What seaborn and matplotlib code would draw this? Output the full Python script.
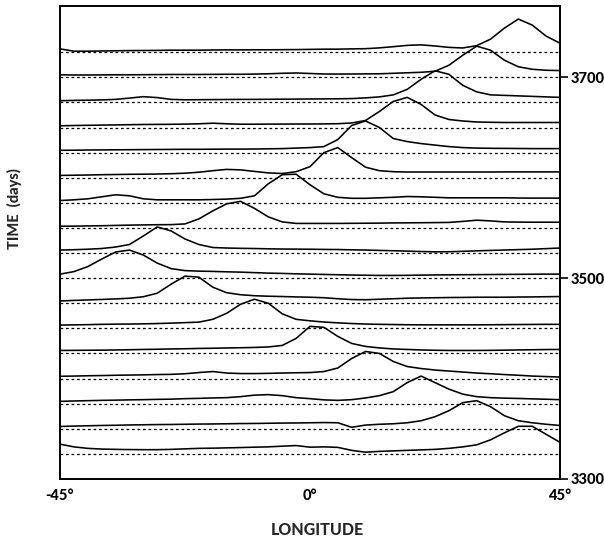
import numpy as np
import pandas as pd
import matplotlib
matplotlib.use("Agg")
import matplotlib.pyplot as plt
import seaborn as sns

# Longitude sample positions (degrees)
lon = np.arange(-45, 45.01, 2.5)

# Baseline (days) of each trace, top to bottom
baselines = [3725, 3700, 3675, 3650, 3625, 3600, 3575, 3550, 3525,
             3500, 3475, 3450, 3425, 3400, 3375, 3350, 3325]

# Trace heights above each baseline (days)
c01 = [3.3, 1.0, 1.0, 1.2, 1.4, 1.6, 1.7, 1.8, 2.0, 2.0, 2.0, 2.2, 2.3, 2.3, 2.4, 2.4, 2.5, 2.6, 2.8, 3.0, 3.0, 3.3, 3.5, 4.3, 5.5, 6.8, 7.3, 6.2, 4.8, 4.2, 6.5, 13, 24, 33, 27, 16, 9]
c02 = [2.5, 2.3, 2.3, 2.4, 2.5, 2.5, 2.6, 2.7, 2.8, 2.8, 2.8, 2.9, 3.0, 3.0, 3.2, 3.5, 4.0, 4.3, 3.8, 3.3, 3.2, 3.3, 3.4, 3.5, 4.0, 4.5, 5.0, 6.0, 12, 22, 31, 27, 17, 10.5, 8, 7, 6.7]
c03 = [1.7, 2.0, 2.2, 2.5, 3.0, 4.3, 5.7, 4.8, 3.0, 2.6, 2.7, 2.8, 2.9, 3.0, 3.0, 3.1, 3.2, 3.3, 3.4, 3.5, 3.6, 3.8, 4.5, 5.5, 7.5, 13, 23, 31.5, 28, 17, 10.5, 7.5, 7, 6.5, 6, 5.5, 5]
c04 = [1.7, 2.0, 2.2, 2.4, 2.6, 2.8, 3.0, 3.1, 3.2, 3.4, 3.7, 4.3, 3.7, 3.3, 3.3, 3.4, 3.4, 3.5, 3.5, 3.6, 3.8, 4.5, 7, 16, 26, 30, 23, 12.5, 8, 6.5, 5.5, 5.2, 5, 5, 5, 5, 5]
c05 = [2.3, 2.4, 2.6, 2.7, 2.8, 2.9, 3.0, 3.1, 3.2, 3.3, 3.3, 3.4, 3.5, 3.5, 3.6, 3.8, 4.0, 4.5, 5.0, 6.0, 13, 27, 31.5, 25, 14, 11, 9, 7.5, 6, 5, 4.5, 4.3, 4.2, 4.1, 4, 4, 4]
c06 = [2.3, 2.5, 2.7, 3.0, 3.2, 3.4, 3.5, 3.7, 4.0, 4.5, 5.5, 7, 8.3, 7.8, 6.3, 4.8, 4.2, 6, 11, 25, 30, 20, 10.5, 7, 6, 5.7, 5.7, 5.7, 5.7, 5.7, 5.7, 5.7, 5.8, 5.8, 5.8, 5.8, 5.8]
c07 = [2.3, 3, 4, 6, 8, 7, 4, 3, 3, 3, 3, 3.3, 3.7, 4.5, 7, 19, 28, 28.5, 18, 9, 5.5, 4.5, 4.5, 5, 5.5, 6.3, 6, 5.5, 5, 5, 5, 5, 5, 4.8, 4.7, 4.7, 4.7]
c08 = [1.7, 1.8, 2, 2.2, 2.5, 2.8, 3, 3.2, 3.3, 4, 9, 17, 24, 26.5, 19.5, 11, 6, 4.5, 4.5, 4.5, 4.5, 4.6, 4.7, 4.8, 5, 5.1, 5.2, 5.3, 5.5, 6.5, 7.7, 7, 6, 5.8, 5.7, 5.7, 5.7]
c09 = [3, 3.3, 3.8, 4.5, 6, 8.5, 17, 26, 22, 14, 8.5, 5.5, 5, 4.7, 4.5, 4.2, 4, 3.9, 3.8, 3.6, 3.5, 3.2, 3, 2.6, 2.3, 1.9, 1.5, 1.2, 1.3, 1.7, 2.2, 2.6, 3, 3.4, 3.8, 4.4, 5]
c10 = [4, 6.5, 11.5, 19, 26, 28, 23, 15, 9.5, 7.5, 7, 6.7, 6.3, 6, 5.5, 5, 4.7, 4.3, 4, 3.7, 3.4, 3.1, 2.9, 2.7, 2.7, 2.8, 3, 3.2, 3.3, 3.4, 3.5, 3.6, 3.7, 3.8, 3.9, 4, 4]
c11 = [2.3, 2.8, 3.3, 3.8, 4.3, 5, 6.5, 10, 19, 27, 26, 16, 10.5, 8.5, 7.5, 7, 6.7, 6.3, 6, 5.5, 4.5, 3.7, 3.5, 4, 4.5, 5, 5.3, 5.5, 5.7, 5.8, 6, 6, 6, 6.2, 6.3, 6.5, 6.7]
c12 = [3.3, 3.5, 3.7, 4, 4.2, 4.3, 4.5, 4.8, 5.2, 5.7, 6.2, 9, 15, 24, 29, 25, 14.5, 9, 7.5, 6.3, 5.5, 4.8, 4.3, 4, 3.8, 3.6, 3.5, 3.5, 3.5, 3.5, 3.5, 3.6, 3.7, 3.8, 3.9, 4, 4]
c13 = [3, 3.1, 3.2, 3.3, 3.5, 3.7, 4, 4.2, 4.5, 4.7, 5, 5.2, 5.5, 5.7, 6, 6.5, 8, 15, 27, 26, 17, 10, 7, 5.5, 4.5, 4, 3.5, 3.2, 3, 3, 3, 3.1, 3.3, 3.5, 3.7, 3.9, 4]
c14 = [2.3, 2.5, 2.8, 3, 3.3, 3.5, 3.7, 4, 4.2, 4.8, 6, 7, 5.5, 5, 5, 5.2, 5.5, 5.8, 6, 7, 10.5, 20, 27, 25, 17, 12, 10, 8.5, 7.5, 6.5, 5.5, 4.8, 4, 3.3, 2.5, 2, 1.5]
c15 = [2.3, 2.7, 3, 3.3, 3.5, 3.8, 4, 4.3, 4.5, 5, 5.3, 5.7, 6, 7, 8.5, 9, 8, 6, 5, 3.8, 3.3, 4, 5.7, 8, 12, 21, 27.5, 21, 14.5, 9.5, 7, 6, 5.5, 5.2, 4.8, 4.4, 4]
c16 = [2.3, 2.7, 3, 3.3, 3.5, 3.8, 4, 4.2, 4.3, 4.5, 4.7, 4.8, 5, 5.2, 5.3, 5.5, 5.7, 5.8, 6, 6.2, 6, 1.5, 3.7, 4.5, 5, 6, 8, 12, 18, 26, 28, 22, 13, 8, 6, 4.5, 3.3]
c17 = [9.7, 7, 5.5, 4.8, 4.5, 4.3, 4.2, 4.2, 4.5, 5, 5.5, 5.7, 6, 6.3, 6.7, 7, 7.7, 8.3, 6.7, 7, 6.5, 3.5, 1.7, 2.5, 3, 3.5, 4, 4.5, 5.5, 7, 9, 14, 21, 27.5, 27.5, 19.5, 11.5]

heights = [c01, c02, c03, c04, c05, c06, c07, c08, c09,
           c10, c11, c12, c13, c14, c15, c16, c17]

x_ticks = [-45, -22.5, 0, 22.5, 45]
x_ticklabels = ["-45°", "", "0°", "", "45°"]
y_ticks = [3300, 3500, 3700]
y_ticklabels = ["3300", "3500", "3700"]

rows = []
for i, (b, h) in enumerate(zip(baselines, heights)):
    for x, v in zip(lon, h):
        rows.append({"curve": i, "lon": x, "time": b + v})
df = pd.DataFrame(rows)

sns.set_style("white")
plt.rcParams["font.family"] = ["Lato", "DejaVu Sans"]

fig = plt.figure(figsize=(6.04, 5.4), dpi=100)
ax = fig.add_axes([60 / 604, 1 - 479 / 540, 500 / 604, 473 / 540])

# dotted baselines
for b in baselines:
    ax.axhline(b, color="black", lw=0.9, ls=(0, (2.2, 2.2)), zorder=1)

sns.lineplot(data=df, x="lon", y="time", units="curve", estimator=None,
             color="black", lw=1.15, ax=ax, sort=False, zorder=2)

ax.set_xlim(-45, 45)
ax.set_ylim(3300, 3771)
for s in ax.spines.values():
    s.set_visible(True)
    s.set_color("black")
    s.set_linewidth(1.4)

ax.set_xticks(x_ticks)
ax.set_xticklabels(x_ticklabels, fontsize=10.5, fontweight=900)
ax.yaxis.tick_right()
ax.set_yticks(y_ticks)
ax.set_yticklabels(y_ticklabels, fontsize=10.5, fontweight=900)
ax.tick_params(axis="both", direction="out", length=6, width=1.2,
               colors="black", pad=2)
ax.tick_params(axis="x", pad=1)
ax.set_xlabel("")
ax.set_ylabel("")

fig.text(317 / 604, 1 - 530 / 540, "LONGITUDE", ha="center", va="center",
         fontsize=11.5, fontweight=900)
fig.text(14 / 604, 1 - 209 / 540, "TIME  (days)", ha="center", va="center",
         rotation=90, fontsize=10.5, fontweight=900)

fig.savefig("out.png", dpi=100)
